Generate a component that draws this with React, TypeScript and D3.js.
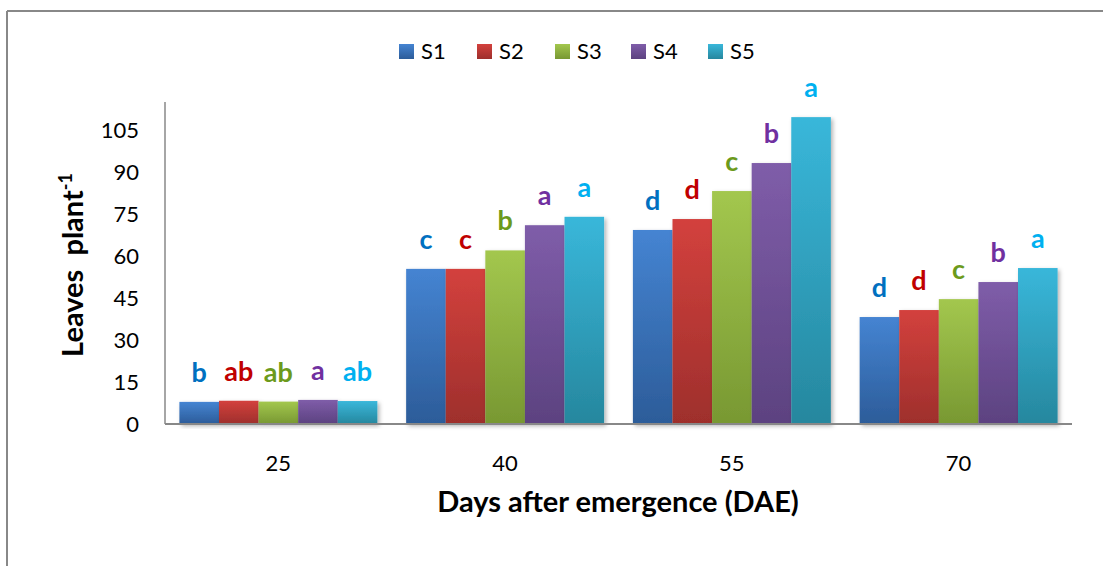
import React from "react";
import * as d3 from "d3";

const categories = ["25", "40", "55", "70"];
const seriesNames = ["S1", "S2", "S3", "S4", "S5"];
const s1 = [7.9, 55.4, 69.3, 38.2];
const s2 = [8.3, 55.4, 73.2, 40.7];
const s3 = [8.0, 62.0, 83.2, 44.6];
const s4 = [8.6, 71.0, 93.2, 50.7];
const s5 = [8.2, 74.0, 109.6, 55.7];
const letters = [
  ["b", "ab", "ab", "a", "ab"],
  ["c", "c", "b", "a", "a"],
  ["d", "d", "c", "b", "a"],
  ["d", "d", "c", "b", "a"],
];
const yTicks = [0, 15, 30, 45, 60, 75, 90, 105];

const barTop = ["#4584D2", "#D3413D", "#A3C74E", "#7F5DA9", "#39B7DA"];
const barBottom = ["#2C5C99", "#9E2F2C", "#789832", "#5C4280", "#26879E"];
const letterColors = ["#0070C0", "#C00000", "#6C9A1C", "#7030A0", "#00B0F0"];

const W = 1103;
const H = 566;
const FONT = "Lato, 'Open Sans', sans-serif";

export default function App() {
  const values = [s1, s2, s3, s4, s5];
  const x0 = d3
    .scaleBand<string>()
    .domain(categories)
    .range([165, 1072])
    .paddingInner(0.127)
    .paddingOuter(0.0635);
  const x1 = d3
    .scaleBand<string>()
    .domain(seriesNames)
    .range([0, x0.bandwidth()])
    .padding(0);
  const y = d3.scaleLinear().domain([0, 115]).range([424, 102]);

  const legendX = [399, 477, 555, 631, 708];

  return (
    <svg
      width={W}
      height={H}
      style={{ position: "absolute", left: 0, top: 0, background: "#fff" }}
      fontFamily={FONT}
    >
      <defs>
        {seriesNames.map((s, i) => (
          <linearGradient key={s} id={`g${i}`} x1="0" y1="0" x2="0" y2="1">
            <stop offset="0%" stopColor={barTop[i]} />
            <stop offset="100%" stopColor={barBottom[i]} />
          </linearGradient>
        ))}
        <filter id="shadow" x="-10%" y="-10%" width="130%" height="130%">
          <feDropShadow dx="2" dy="2" stdDeviation="2" floodColor="#000" floodOpacity="0.3" />
        </filter>
      </defs>

      {/* outer frame */}
      <line x1={7} y1={11} x2={W} y2={11} stroke="#888" strokeWidth={2} />
      <line x1={7} y1={11} x2={7} y2={H} stroke="#888" strokeWidth={2} />

      {/* legend */}
      {seriesNames.map((s, i) => (
        <g key={s}>
          <rect x={legendX[i]} y={44} width={15} height={15} fill={`url(#g${i})`} />
          <text x={legendX[i] + 22} y={59} fontSize={22} fill="#000">
            {s}
          </text>
        </g>
      ))}

      {/* y axis */}
      <line x1={165} y1={102} x2={165} y2={424} stroke="#888" strokeWidth={1.5} />
      {yTicks.map((t) => (
        <text key={t} x={139} y={y(t) + 7.5} fontSize={22} textAnchor="end" fill="#000">
          {t}
        </text>
      ))}

      {/* bars */}
      {categories.map((c, ci) => (
        <g key={c} transform={`translate(${x0(c)},0)`}>
          {seriesNames.map((s, si) => {
            const v = values[si][ci];
            return (
              <rect
                key={s}
                x={x1(s)}
                y={y(v)}
                width={x1.bandwidth()}
                height={y(0) - y(v)}
                fill={`url(#g${si})`}
                filter="url(#shadow)"
              />
            );
          })}
          {seriesNames.map((s, si) => {
            const v = values[si][ci];
            return (
              <text
                key={s + "l"}
                x={(x1(s) as number) + x1.bandwidth() / 2}
                y={y(v) - 20}
                fontSize={27}
                fontWeight="bold"
                textAnchor="middle"
                fill={letterColors[si]}
              >
                {letters[ci][si]}
              </text>
            );
          })}
        </g>
      ))}

      {/* x axis */}
      <line x1={165} y1={424} x2={1072} y2={424} stroke="#888" strokeWidth={2} />
      {categories.map((c) => (
        <text
          key={c}
          x={(x0(c) as number) + x0.bandwidth() / 2}
          y={471}
          fontSize={22}
          textAnchor="middle"
          fill="#000"
        >
          {c}
        </text>
      ))}

      <text x={618} y={512} fontSize={29} fontWeight="bold" textAnchor="middle" fill="#000">
        Days after emergence (DAE)
      </text>

      <text
        transform="translate(83,265) rotate(-90)"
        fontSize={29}
        fontWeight="bold"
        textAnchor="middle"
        fill="#000"
      >
        Leaves{"\u00a0\u00a0"}plant
        <tspan fontSize={18} dy={-11}>
          -1
        </tspan>
      </text>
    </svg>
  );
}
